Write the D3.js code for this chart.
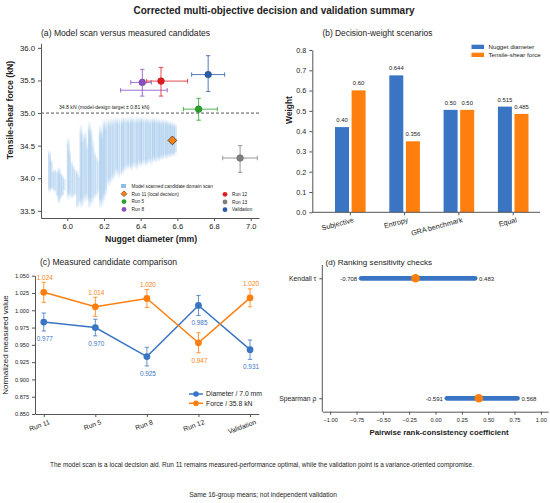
<!DOCTYPE html>
<html>
<head>
<meta charset="utf-8">
<script src="https://cdn.jsdelivr.net/npm/d3@7"></script>
<style>
  body { margin: 0; background: #fff; }
  svg text { font-family: "Liberation Sans", Arial, sans-serif; fill: #222; }
</style>
</head>
<body>
<svg id="chart" width="550" height="503"></svg>
<script>
// ---- panel (a): model scan columns [diameter, force low, force high, shade]
var scanStreaks = [
  [5.903, 33.77, 34.44, .6], [5.912, 33.80, 34.30, .5], [5.922, 33.82, 34.12, .4], [5.932, 33.78, 34.15, .5],
  [5.945, 33.70, 34.12, .45], [5.955, 33.60, 34.18, .6], [5.965, 33.68, 34.10, .5], [5.975, 33.72, 34.05, .45],
  [5.985, 33.80, 34.00, .35], [6.005, 33.65, 34.64, .6], [6.013, 33.70, 34.45, .45], [6.025, 33.67, 34.28, .5],
  [6.035, 33.70, 34.20, .4], [6.045, 33.72, 34.15, .35], [6.055, 33.52, 34.13, .5], [6.065, 33.60, 34.05, .35],
  [6.075, 33.52, 34.84, .65], [6.085, 33.55, 34.70, .5], [6.098, 33.62, 34.74, .6], [6.108, 33.65, 34.55, .4],
  [6.120, 33.52, 34.89, .7], [6.130, 33.55, 34.80, .55], [6.140, 33.60, 34.60, .4], [6.150, 33.67, 34.43, .45],
  [6.160, 33.70, 34.35, .35], [6.170, 33.75, 34.30, .3], [6.180, 33.52, 34.84, .7], [6.190, 33.55, 34.75, .55],
  [6.200, 33.62, 34.94, .65], [6.210, 33.70, 34.90, .5], [6.220, 33.85, 34.95, .35], [6.230, 33.87, 34.92, .6],
  [6.240, 33.90, 34.95, .4], [6.250, 33.95, 34.93, .55], [6.260, 34.00, 34.96, .35], [6.270, 34.05, 34.94, .6],
  [6.280, 33.98, 34.95, .45], [6.290, 34.00, 34.92, .3], [6.300, 34.03, 34.95, .65], [6.310, 34.08, 34.96, .5],
  [6.320, 34.10, 34.94, .35], [6.330, 34.12, 34.95, .6], [6.340, 34.13, 34.93, .4], [6.350, 34.10, 34.96, .65],
  [6.360, 34.15, 34.95, .45], [6.370, 34.14, 34.93, .35], [6.380, 34.12, 34.96, .6], [6.390, 34.18, 34.94, .4],
  [6.400, 34.16, 34.95, .65], [6.410, 34.18, 34.96, .5], [6.420, 34.20, 34.93, .35], [6.430, 34.17, 34.95, .6],
  [6.440, 34.20, 34.94, .45], [6.450, 34.22, 34.92, .55], [6.460, 34.18, 34.95, .4], [6.470, 34.25, 34.93, .65],
  [6.480, 34.22, 34.94, .5], [6.490, 34.26, 34.92, .45], [6.500, 34.24, 34.93, .6], [6.510, 34.28, 34.90, .5],
  [6.520, 34.27, 34.92, .55], [6.530, 34.30, 34.90, .45], [6.540, 34.28, 34.91, .6], [6.550, 34.32, 34.88, .5],
  [6.560, 34.30, 34.89, .55], [6.570, 34.33, 34.87, .5], [6.580, 34.32, 34.86, .55], [6.590, 34.36, 34.85, .45]
];
var runLabels = ['Run 11 (local decision)', 'Run 5', 'Run 8', 'Run 12', 'Run 13', 'Validation'];
var runColors = ['#ff7f0e', '#2ca02c', '#8a4fbf', '#e01b22', '#7f7f7f', '#2a5caa'];
var runDiameter = [6.573, 6.716, 6.409, 6.511, 6.942, 6.768];
var runForce = [34.58, 35.06, 35.47, 35.49, 34.31, 35.59];
var runDiamLo = [null, 6.633, 6.346, 6.433, 6.847, 6.678];
var runDiamHi = [null, 6.818, 6.458, 6.656, 7.036, 6.858];
var runForceLo = [null, 34.89, 35.26, 35.26, 34.09, 35.33];
var runForceHi = [null, 35.225, 35.67, 35.70, 34.50, 35.88];
var run8SpreadBar = [6.291, 6.545, 35.35];
var targetForce = 35.0;
var forceTicks = [33.5, 34.0, 34.5, 35.0, 35.5, 36.0];
var diamTicks = [6.0, 6.2, 6.4, 6.6, 6.8, 7.0];

// ---- panel (b)
var scenarios = ['Subjective', 'Entropy', 'GRA benchmark', 'Equal'];
var nuggetWeight = [0.42, 0.675, 0.505, 0.521];
var forceWeight = [0.601, 0.35, 0.505, 0.485];
var nuggetLabels = ['0.40', '0.644', '0.50', '0.515'];
var forceLabels = ['0.60', '0.356', '0.50', '0.485'];
var weightTicks = [0, 0.1, 0.2, 0.3, 0.4, 0.5, 0.6, 0.7, 0.8];

// ---- panel (c)
var runs = ['Run 11', 'Run 5', 'Run 8', 'Run 12', 'Validation'];
var diamNorm = [0.983, 0.975, 0.933, 1.007, 0.943];
var diamErr = [0.013, 0.012, 0.0135, 0.0145, 0.014];
var forceNorm = [1.026, 1.005, 1.017, 0.953, 1.018];
var forceErr = [0.0145, 0.0138, 0.013, 0.0145, 0.013];
var diamText = ['0.977', '0.970', '0.925', '0.985', '0.931'];
var forceText = ['1.024', '1.014', '1.020', '0.947', '1.020'];
var normTicks = [0.850, 0.875, 0.900, 0.925, 0.950, 0.975, 1.000, 1.025, 1.050];

// ---- panel (d)
var rankMetrics = ['Kendall τ', 'Spearman ρ'];
var rankLow = [-0.706, 0.108];
var rankHigh = [0.376, 0.778];
var rankMid = [-0.19, 0.411];
var rankLowText = ['-0.708', '-0.591'];
var rankHighText = ['0.483', '0.568'];
var coefTicks = [-1, -0.75, -0.5, -0.25, 0, 0.25, 0.5, 0.75, 1];

var BLUE = '#3a75c4';
var ORANGE = '#ff7f0e';
var AXIS = '#555';

var svg = d3.select('#chart');
svg.append('rect').attr('width', 550).attr('height', 503).attr('fill', '#fff');

svg.append('text')
  .attr('x', 274).attr('y', 13.5)
  .attr('text-anchor', 'middle')
  .attr('font-size', 10).attr('font-weight', 'bold')
  .text('Corrected multi-objective decision and validation summary');

function styleAxis(g, fs) {
  g.selectAll('path').attr('stroke', AXIS);
  g.selectAll('line').attr('stroke', AXIS);
  g.selectAll('text').attr('font-size', fs).attr('fill', '#222');
}

function errBar(g, x1, y1, x2, y2, color, horizontal) {
  g.append('line').attr('x1', x1).attr('y1', y1).attr('x2', x2).attr('y2', y2)
    .attr('stroke', color).attr('stroke-width', 1).attr('stroke-opacity', 0.8);
  var c = 2.2;
  if (horizontal) {
    g.append('line').attr('x1', x1).attr('x2', x1).attr('y1', y1 - c).attr('y2', y1 + c)
      .attr('stroke', color).attr('stroke-opacity', 0.8);
    g.append('line').attr('x1', x2).attr('x2', x2).attr('y1', y2 - c).attr('y2', y2 + c)
      .attr('stroke', color).attr('stroke-opacity', 0.8);
  } else {
    g.append('line').attr('x1', x1 - c).attr('x2', x1 + c).attr('y1', y1).attr('y2', y1)
      .attr('stroke', color).attr('stroke-opacity', 0.8);
    g.append('line').attr('x1', x2 - c).attr('x2', x2 + c).attr('y1', y2).attr('y2', y2)
      .attr('stroke', color).attr('stroke-opacity', 0.8);
  }
}

function diamond(cx, cy, r) {
  return 'M' + cx + ',' + (cy - r) + 'L' + (cx + r) + ',' + cy + 'L' + cx + ',' + (cy + r) + 'L' + (cx - r) + ',' + cy + 'Z';
}

drawPanelA();
drawPanelB();
drawPanelC();
drawPanelD();

svg.append('text')
  .attr('x', 262).attr('y', 466.5)
  .attr('text-anchor', 'middle').attr('font-size', 6.45)
  .text('The model scan is a local decision aid. Run 11 remains measured-performance optimal, while the validation point is a variance-oriented compromise.');

svg.append('text')
  .attr('x', 263).attr('y', 496.5)
  .attr('text-anchor', 'middle').attr('font-size', 6.6)
  .text('Same 16-group means; not independent validation');

function drawPanelA() {
  var x = d3.scaleLinear().domain([5.857, 7.045]).range([41, 259]);
  var y = d3.scaleLinear().domain([33.39, 36.07]).range([218, 43.3]);
  var g = svg.append('g');

  var defs = svg.append('defs');
  var grad = defs.append('linearGradient').attr('id', 'streakFade')
    .attr('x1', 0).attr('y1', 0).attr('x2', 0).attr('y2', 1);
  grad.append('stop').attr('offset', '0%').attr('stop-color', '#8cbbe7').attr('stop-opacity', 0.0);
  grad.append('stop').attr('offset', '14%').attr('stop-color', '#8cbbe7').attr('stop-opacity', 0.6);
  grad.append('stop').attr('offset', '86%').attr('stop-color', '#8cbbe7').attr('stop-opacity', 0.6);
  grad.append('stop').attr('offset', '100%').attr('stop-color', '#8cbbe7').attr('stop-opacity', 0.0);

  g.selectAll('rect.scan').data(scanStreaks).enter().append('rect')
    .attr('class', 'scan')
    .attr('x', function (d) { return x(d[0]) - 1.4; })
    .attr('width', 2.8)
    .attr('y', function (d) { return y(d[2]); })
    .attr('height', function (d) { return y(d[1]) - y(d[2]); })
    .attr('opacity', function (d) { return Math.min(1, d[3] * 1.3); })
    .attr('fill', 'url(#streakFade)');

  g.append('line')
    .attr('x1', 41).attr('x2', 259)
    .attr('y1', y(targetForce)).attr('y2', y(targetForce))
    .attr('stroke', '#444').attr('stroke-width', 0.9).attr('stroke-dasharray', '3,2');
  g.append('text')
    .attr('x', 59).attr('y', y(targetForce) - 4)
    .attr('font-size', 5.1).attr('fill', '#333')
    .text('34.8 kN (model-design target \u00b1 0.81 kN)');

  // Run 8 wider spread bar
  errBar(g, x(run8SpreadBar[0]), y(run8SpreadBar[2]), x(run8SpreadBar[1]), y(run8SpreadBar[2]), runColors[2], true);

  for (var i = 1; i < runLabels.length; i++) {
    errBar(g, x(runDiamLo[i]), y(runForce[i]), x(runDiamHi[i]), y(runForce[i]), runColors[i], true);
    errBar(g, x(runDiameter[i]), y(runForceLo[i]), x(runDiameter[i]), y(runForceHi[i]), runColors[i], false);
  }
  for (i = 1; i < runLabels.length; i++) {
    g.append('circle')
      .attr('cx', x(runDiameter[i])).attr('cy', y(runForce[i])).attr('r', 3.3)
      .attr('fill', runColors[i]).attr('stroke', d3.color(runColors[i]).darker(0.6)).attr('stroke-width', 0.6);
  }
  g.append('path')
    .attr('d', diamond(x(runDiameter[0]), y(runForce[0]), 4.4))
    .attr('fill', runColors[0]).attr('stroke', '#333').attr('stroke-width', 0.8);

  var ax = g.append('g').attr('transform', 'translate(0,218)')
    .call(d3.axisBottom(x).tickValues(diamTicks).tickFormat(d3.format('.1f')).tickSize(3).tickSizeOuter(0));
  styleAxis(ax, 7.5);
  var ay = g.append('g').attr('transform', 'translate(41,0)')
    .call(d3.axisLeft(y).tickValues(forceTicks).tickFormat(d3.format('.1f')).tickSize(3).tickSizeOuter(0));
  styleAxis(ay, 7.7);

  g.append('text').attr('x', 151).attr('y', 242)
    .attr('text-anchor', 'middle').attr('font-size', 8.7).attr('font-weight', 'bold')
    .text('Nugget diameter (mm)');
  g.append('text').attr('transform', 'translate(13,110) rotate(-90)')
    .attr('text-anchor', 'middle').attr('font-size', 8.7).attr('font-weight', 'bold')
    .text('Tensile-shear force (kN)');
  g.append('text').attr('x', 41).attr('y', 36)
    .attr('font-size', 8.6)
    .text('(a) Model scan versus measured candidates');

  // legend
  var lg = g.append('g');
  var leftRows = [{ t: 'Model scanned candidate domain scan', k: 'scan' }, { t: runLabels[0], k: 0 }, { t: runLabels[1], k: 1 }, { t: runLabels[2], k: 2 }];
  var rightRows = [{ t: runLabels[3], k: 3 }, { t: runLabels[4], k: 4 }, { t: runLabels[5], k: 5 }];
  leftRows.forEach(function (r, j) {
    var cy = 186 + j * 7.8;
    if (r.k === 'scan') {
      lg.append('rect').attr('x', 121).attr('y', cy - 2).attr('width', 5).attr('height', 4).attr('fill', '#8fbde8');
    } else if (r.k === 0) {
      lg.append('path').attr('d', diamond(124, cy, 3)).attr('fill', runColors[0]).attr('stroke', '#333').attr('stroke-width', 0.5);
    } else {
      lg.append('circle').attr('cx', 124).attr('cy', cy).attr('r', 2.4).attr('fill', runColors[r.k]);
    }
    lg.append('text').attr('x', 131.5).attr('y', cy + 1.7).attr('font-size', 4.7).text(r.t);
  });
  rightRows.forEach(function (r, j) {
    var cy = 194.3 + j * 7.7;
    lg.append('circle').attr('cx', 225).attr('cy', cy).attr('r', 2.4).attr('fill', runColors[r.k]);
    lg.append('text').attr('x', 232).attr('y', cy + 1.7).attr('font-size', 4.7).text(r.t);
  });
}

function drawPanelB() {
  var y = d3.scaleLinear().domain([0, 0.8]).range([212.3, 50]);
  var cx = d3.scalePoint().domain(scenarios).range([350.3, 513.2]);
  var g = svg.append('g');
  var bw = 14;

  scenarios.forEach(function (s, i) {
    var c = cx(s);
    g.append('rect').attr('x', c - 1.3 - bw).attr('width', bw)
      .attr('y', y(nuggetWeight[i])).attr('height', y(0) - y(nuggetWeight[i]))
      .attr('fill', BLUE);
    g.append('rect').attr('x', c + 1.3).attr('width', bw)
      .attr('y', y(forceWeight[i])).attr('height', y(0) - y(forceWeight[i]))
      .attr('fill', ORANGE);
    g.append('text').attr('x', c - 1.3 - bw / 2).attr('y', y(nuggetWeight[i]) - 5)
      .attr('text-anchor', 'middle').attr('font-size', 5.9).text(nuggetLabels[i]);
    g.append('text').attr('x', c + 1.3 + bw / 2).attr('y', y(forceWeight[i]) - 5)
      .attr('text-anchor', 'middle').attr('font-size', 5.9).text(forceLabels[i]);
  });

  var ay = g.append('g').attr('transform', 'translate(312.3,0)')
    .call(d3.axisLeft(y).tickValues(weightTicks).tickFormat(d3.format('.1f')).tickSize(3).tickSizeOuter(0));
  styleAxis(ay, 7.2);
  g.append('line').attr('x1', 312.3).attr('x2', 540).attr('y1', 212.3).attr('y2', 212.3).attr('stroke', AXIS);
  scenarios.forEach(function (s) {
    var c = cx(s);
    g.append('line').attr('x1', c).attr('x2', c).attr('y1', 212.3).attr('y2', 215.3).attr('stroke', AXIS);
    g.append('text').attr('transform', 'translate(' + (c + 4) + ',222) rotate(-15)')
      .attr('text-anchor', 'end').attr('font-size', 7.2).text(s);
  });

  g.append('text').attr('transform', 'translate(292,110) rotate(-90)')
    .attr('text-anchor', 'middle').attr('font-size', 8.4).attr('font-weight', 'bold').text('Weight');
  g.append('text').attr('x', 322.5).attr('y', 36).attr('font-size', 8.4).text('(b) Decision-weight scenarios');

  g.append('rect').attr('x', 471.5).attr('y', 44.7).attr('width', 12.5).attr('height', 4.3).attr('fill', BLUE);
  g.append('text').attr('x', 488.5).attr('y', 49).attr('font-size', 6.2).text('Nugget diameter');
  g.append('rect').attr('x', 471.5).attr('y', 52.7).attr('width', 12.5).attr('height', 4.3).attr('fill', ORANGE);
  g.append('text').attr('x', 488.5).attr('y', 57).attr('font-size', 6.2).text('Tensile-shear force');
}

function drawPanelC() {
  var x = d3.scalePoint().domain(runs).range([35, 258.8]).padding(0.17);
  var y = d3.scaleLinear().domain([0.85, 1.05]).range([414, 275.7]);
  var g = svg.append('g');

  var series = [
    { v: diamNorm, e: diamErr, t: diamText, c: BLUE },
    { v: forceNorm, e: forceErr, t: forceText, c: ORANGE }
  ];
  var line = d3.line().x(function (d, i) { return x(runs[i]); }).y(function (d) { return y(d); });

  series.forEach(function (s) {
    g.append('path').attr('d', line(s.v)).attr('fill', 'none').attr('stroke', s.c).attr('stroke-width', 1.5);
    s.v.forEach(function (v, i) {
      errBar(g, x(runs[i]), y(v - s.e[i]), x(runs[i]), y(v + s.e[i]), s.c, false);
    });
    g.selectAll(null).data(s.v).enter().append('circle')
      .attr('cx', function (d, i) { return x(runs[i]); })
      .attr('cy', function (d) { return y(d); })
      .attr('r', 3.4).attr('fill', s.c);
  });

  runs.forEach(function (r, i) {
    g.append('text').attr('x', x(r) + 1).attr('y', y(diamNorm[i] - diamErr[i]) + 10)
      .attr('text-anchor', 'middle').attr('font-size', 6.4).style('fill', BLUE).text(diamText[i]);
    var below = forceNorm[i] < diamNorm[i];
    var fy = below ? y(forceNorm[i] - forceErr[i]) + 10 : y(forceNorm[i] + forceErr[i]) - 2.5;
    g.append('text').attr('x', x(r) + 1).attr('y', fy)
      .attr('text-anchor', 'middle').attr('font-size', 6.4).style('fill', ORANGE).text(forceText[i]);
  });

  var ay = g.append('g').attr('transform', 'translate(35,0)')
    .call(d3.axisLeft(y).tickValues(normTicks).tickFormat(d3.format('.3f')).tickSize(3).tickSizeOuter(0));
  styleAxis(ay, 5.6);
  var ax = g.append('g').attr('transform', 'translate(0,414)')
    .call(d3.axisBottom(x).tickSize(3).tickSizeOuter(0));
  styleAxis(ax, 6.8);
  ax.selectAll('text').attr('text-anchor', 'end').attr('dy', null).attr('y', null)
    .attr('transform', 'translate(6,10) rotate(-20)');

  g.append('text').attr('transform', 'translate(8,345) rotate(-90)')
    .attr('text-anchor', 'middle').attr('font-size', 8).text('Normalized measured value');
  g.append('text').attr('x', 40).attr('y', 265).attr('font-size', 8.6).text('(c)  Measured candidate comparison');

  var legendRows = [{ t: 'Diameter / 7.0 mm', c: BLUE }, { t: 'Force / 35.8 kN', c: ORANGE }];
  legendRows.forEach(function (r, j) {
    var ly = 394 + j * 9.3;
    g.append('line').attr('x1', 189).attr('x2', 203).attr('y1', ly).attr('y2', ly).attr('stroke', r.c).attr('stroke-width', 1.5);
    g.append('circle').attr('cx', 196).attr('cy', ly).attr('r', 2.8).attr('fill', r.c);
    g.append('text').attr('x', 206).attr('y', ly + 2.4).attr('font-size', 6.8).text(r.t);
  });
}

function drawPanelD() {
  var x = d3.scaleLinear().domain([-1.075, 1.07]).range([322.3, 548.2]);
  var y = d3.scalePoint().domain(rankMetrics).range([278.3, 398.3]);
  var g = svg.append('g');

  rankMetrics.forEach(function (m, i) {
    var cy = y(m);
    g.append('line').attr('x1', x(rankLow[i])).attr('x2', x(rankHigh[i]))
      .attr('y1', cy).attr('y2', cy)
      .attr('stroke', BLUE).attr('stroke-width', 4.8).attr('stroke-linecap', 'round');
    g.append('circle').attr('cx', x(rankMid[i])).attr('cy', cy).attr('r', 4.3).attr('fill', ORANGE);
    g.append('text').attr('x', x(rankLow[i]) - 4).attr('y', cy + 2.2)
      .attr('text-anchor', 'end').attr('font-size', 6).text(rankLowText[i]);
    g.append('text').attr('x', x(rankHigh[i]) + 4).attr('y', cy + 2.2)
      .attr('font-size', 6).text(rankHighText[i]);
  });

  var ay = g.append('g').attr('transform', 'translate(322.3,0)')
    .call(d3.axisLeft(y).tickSize(3).tickSizeOuter(0));
  ay.select('path').attr('d', 'M0,265V411.7');
  styleAxis(ay, 6.8);
  var ax = g.append('g').attr('transform', 'translate(0,411.7)')
    .call(d3.axisBottom(x).tickValues(coefTicks).tickFormat(d3.format('.2f')).tickSize(3).tickSizeOuter(0));
  styleAxis(ax, 5.7);

  g.append('text').attr('x', 439).attr('y', 434.5)
    .attr('text-anchor', 'middle').attr('font-size', 7.8).attr('font-weight', 'bold')
    .text('Pairwise rank-consistency coefficient');
  g.append('text').attr('x', 325.5).attr('y', 265).attr('font-size', 8.1).text('(d) Ranking sensitivity checks');
}
</script>
</body>
</html>
